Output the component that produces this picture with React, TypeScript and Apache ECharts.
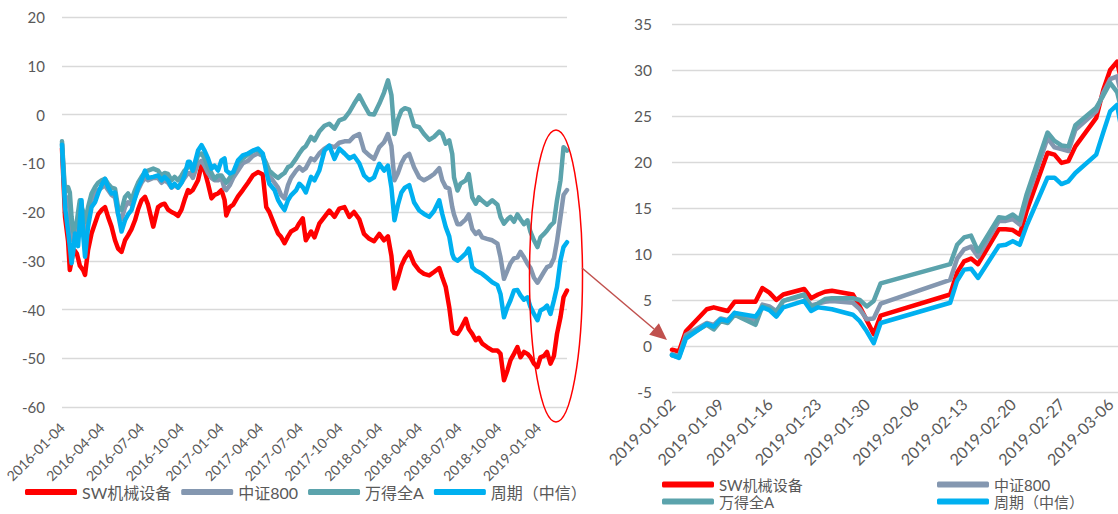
import React, { useEffect, useRef } from 'react';
import * as echarts from 'echarts';

const seriesNames = ['SW机械设备', '中证800', '万得全A', '周期（中信）'];
const seriesColors = ['#FF0000', '#8497B0', '#5BA3AC', '#00B0F0'];

const leftTickLabels = [
  '2016-01-04', '2016-04-04', '2016-07-04', '2016-10-04', '2017-01-04', '2017-04-04', '2017-07-04',
  '2017-10-04', '2018-01-04', '2018-04-04', '2018-07-04', '2018-10-04', '2019-01-04',
];
const rightTickLabels = [
  '2019-01-02', '2019-01-09', '2019-01-16', '2019-01-23', '2019-01-30', '2019-02-06', '2019-02-13',
  '2019-02-20', '2019-02-27', '2019-03-06',
];

const leftDates = [
  '2016-01-04', '2016-01-11', '2016-01-18', '2016-01-22', '2016-01-26', '2016-01-30', '2016-02-03', '2016-02-07',
  '2016-02-10', '2016-02-14', '2016-02-18', '2016-02-22', '2016-02-26', '2016-03-04', '2016-03-12', '2016-03-20',
  '2016-03-27', '2016-04-04', '2016-04-12', '2016-04-19', '2016-04-27', '2016-05-05', '2016-05-12', '2016-05-20',
  '2016-05-28', '2016-06-04', '2016-06-12', '2016-06-20', '2016-06-27', '2016-07-05', '2016-07-13', '2016-07-20',
  '2016-08-01', '2016-08-12', '2016-08-20', '2016-08-27', '2016-09-04', '2016-09-12', '2016-09-19', '2016-09-27',
  '2016-10-05', '2016-10-12', '2016-10-20', '2016-10-24', '2016-10-31', '2016-11-12', '2016-11-20', '2016-11-27',
  '2016-12-05', '2016-12-13', '2016-12-20', '2016-12-28', '2017-01-05', '2017-01-12', '2017-01-16', '2017-01-24',
  '2017-02-01', '2017-02-12', '2017-02-23', '2017-03-07', '2017-03-18', '2017-03-30', '2017-04-10', '2017-04-18',
  '2017-04-25', '2017-05-07', '2017-05-15', '2017-05-22', '2017-05-30', '2017-06-07', '2017-06-14', '2017-06-26',
  '2017-07-03', '2017-07-11', '2017-07-18', '2017-07-30', '2017-08-07', '2017-08-18', '2017-08-30', '2017-09-10',
  '2017-09-22', '2017-10-03', '2017-10-15', '2017-10-26', '2017-11-06', '2017-11-18', '2017-11-29', '2017-12-11',
  '2017-12-22', '2018-01-03', '2018-01-14', '2018-01-23', '2018-01-31', '2018-02-07', '2018-02-15', '2018-02-23',
  '2018-03-03', '2018-03-13', '2018-03-24', '2018-04-05', '2018-04-16', '2018-04-28', '2018-05-09', '2018-05-21',
  '2018-05-28', '2018-06-05', '2018-06-13', '2018-06-20', '2018-06-24', '2018-07-02', '2018-07-09', '2018-07-21',
  '2018-07-28', '2018-08-05', '2018-08-13', '2018-08-20', '2018-08-28', '2018-09-08', '2018-09-20', '2018-10-02',
  '2018-10-09', '2018-10-17', '2018-10-25', '2018-11-01', '2018-11-09', '2018-11-17', '2018-11-24', '2018-12-02',
  '2018-12-10', '2018-12-17', '2018-12-25', '2019-01-02', '2019-01-09', '2019-01-17', '2019-01-24', '2019-02-01',
  '2019-02-09', '2019-02-16', '2019-02-24', '2019-03-03', '2019-03-11',
];

const leftRed = [
  -7.0, -21, -26, -31.9, -30, -27.8, -28, -28.5, -29.5, -31, -31.5, -32, -32.9, -27.8, -24.4, -22.3,
  -20.5, -19.6, -19, -21, -23, -25.8, -27.5, -28.2, -25.8, -24.8, -23.5, -21.7, -19.5, -17.6, -16.9, -18.5,
  -23, -19, -18.5, -18.3, -19.5, -20, -20.3, -20.8, -19.5, -17.5, -15.5, -16, -15.5, -13.5, -10.4, -11.5,
  -14.2, -17.2, -16.5, -16.2, -15.5, -17.5, -20.7, -19, -18.5, -16.8, -15.5, -14, -12.5, -11.8, -12.3, -19,
  -20, -22.7, -24.4, -25.1, -26.4, -25, -24, -23.4, -22.3, -21.3, -25.8, -24, -25.2, -22.4, -21, -19.7,
  -21, -19.3, -19, -21, -20, -21.5, -24.5, -25.5, -26, -24.5, -25.8, -25, -29, -35.7, -33.5, -31,
  -29.5, -28.2, -30.6, -32, -32.7, -33, -32.3, -31.5, -33.4, -35.4, -39.5, -44.3, -44.8, -45, -44, -41.9,
  -44, -45, -46.3, -45.8, -47, -47.7, -48.4, -48.4, -49.1, -54.5, -52.5, -50.4, -49.1, -47.7, -49.8, -48.7,
  -49.1, -49.8, -51.1, -51.8, -49.8, -49.5, -48.7, -51.1, -49.5, -45, -41.6, -37.5, -36.1,
];
const leftGray = [
  -6.0, -17, -17, -20, -25, -26, -24, -23, -22, -19, -19, -22, -24, -20, -17.5, -16,
  -15.5, -15, -14.5, -15.5, -16.5, -17, -20.5, -21.5, -19, -18, -18.5, -17, -15.5, -14, -13, -13.5,
  -13, -13, -14, -13.5, -14, -15, -14.5, -15, -14, -13, -12, -12, -13, -10, -9.5, -10.5,
  -12, -13, -13.5, -13.5, -13, -15.2, -15.5, -14.5, -13, -11.5, -10, -9.5, -8.5, -8, -8.5, -11,
  -12.5, -14, -15, -16.5, -17.2, -14.5, -13, -11.5, -10.8, -11.5, -11, -9, -9.4, -8, -7, -6.4,
  -6.7, -5.8, -5.5, -5.5, -4.5, -4, -7.4, -8.4, -9.1, -6.7, -5.7, -4, -6.5, -13.5, -12, -10,
  -8.7, -8.1, -10.8, -12.9, -13.5, -12.9, -12.2, -11, -13.5, -14.9, -15.2, -19, -20.5, -22.5, -22.5, -21.5,
  -20.5, -23.5, -24.5, -24, -25.2, -25.5, -25.8, -26.5, -29.3, -33.7, -32, -30.5, -29.5, -29.3, -28.2, -29.3,
  -30.6, -31.5, -33.5, -34.5, -33.5, -32.3, -31.3, -31, -29.5, -26, -21, -16.5, -15.5,
];
const leftTeal = [
  -5.5, -16, -14.9, -16, -21, -24, -23, -22, -20, -17.6, -19, -20, -22, -19, -16.2, -14.9,
  -14, -13.5, -13.2, -14.2, -15, -15.2, -19, -19.6, -16.9, -16.2, -17.5, -15.5, -14, -12.8, -11.8, -11.5,
  -11.1, -11.5, -12.5, -12, -12.2, -13.5, -12.8, -13.5, -12.5, -11.5, -10.8, -10.5, -11.5, -8.4, -8, -9,
  -10.8, -12, -13.2, -12.5, -12.5, -13.5, -14, -13, -12, -10, -9, -8.2, -7.5, -7.2, -8.5, -10,
  -11.5, -12.5, -13, -12.5, -12, -10.8, -10.5, -9, -8, -7, -6.5, -4.6, -5.3, -3.5, -2.3, -1.9,
  -2.9, -1.2, -0.8, 0.5, 2.2, 3.9, 2.0, 0.1, 0.0, 2.2, 4.5, 7.0, 4, -4, -1, 0.8,
  1.3, 1, -2.3, -2.6, -4, -5.2, -4.6, -3.5, -4, -6, -5.3, -8.1, -12.9, -15.6, -14.2, -13.5,
  -12.2, -17, -18.3, -17, -17.7, -18.5, -17.6, -18.5, -21, -22.4, -21.5, -21, -22, -20.5, -21.5, -22.5,
  -21.7, -24.1, -25.8, -27.2, -25.2, -24.5, -23.8, -22.8, -22.1, -17.6, -13.5, -6.7, -7.4,
];
const leftBlue = [
  -6.2, -19, -24, -27, -30.5, -28, -24.4, -25, -27, -22, -17.6, -25, -29.2, -23, -19, -18,
  -16.2, -14.5, -13.2, -14.9, -16.2, -16, -20.3, -24, -21.7, -20.5, -19.6, -17.2, -15, -13.5, -11.5, -13,
  -12.8, -12.5, -13.5, -12.8, -13.5, -14.9, -14.2, -15, -14, -12.5, -9.7, -9.7, -11.5, -7.4, -6.3, -7.4,
  -9, -11.1, -10.5, -11.5, -9.4, -9, -11.5, -12.1, -11.8, -9.4, -8.4, -8, -7.4, -7, -8, -11.8,
  -14.2, -15.5, -17.5, -18.6, -19.6, -17.6, -16.6, -15.5, -14.2, -14.9, -16, -12.8, -13.5, -11.5, -7.4, -6.4,
  -9.1, -7, -8, -9, -8.5, -10, -12.5, -13.5, -12.9, -10.1, -11.5, -10.5, -15, -21.7, -18.5, -16,
  -15, -14.5, -18, -19.7, -20.4, -21, -19.8, -17.6, -20.4, -23.1, -25, -28.6, -29.5, -30, -29.5, -28.5,
  -27.5, -31.3, -32, -32.3, -32.7, -33.5, -34.4, -35, -36.8, -41.6, -39.5, -38.1, -36.1, -36, -37.1, -38,
  -37.5, -39.5, -40.9, -42.2, -40.2, -39.8, -39.2, -40.9, -38.1, -35.4, -29.9, -27.2, -26.2,
];

const rightDates = [
  '2019-01-02', '2019-01-03', '2019-01-04', '2019-01-07', '2019-01-08', '2019-01-09', '2019-01-10', '2019-01-11',
  '2019-01-14', '2019-01-15', '2019-01-16', '2019-01-17', '2019-01-18', '2019-01-21', '2019-01-22', '2019-01-23',
  '2019-01-24', '2019-01-25', '2019-01-28', '2019-01-29', '2019-01-30', '2019-01-31', '2019-02-01', '2019-02-11',
  '2019-02-12', '2019-02-13', '2019-02-14', '2019-02-15', '2019-02-18', '2019-02-19', '2019-02-20', '2019-02-21',
  '2019-02-22', '2019-02-25', '2019-02-26', '2019-02-27', '2019-02-28', '2019-03-01', '2019-03-04', '2019-03-05',
  '2019-03-06', '2019-03-07', '2019-03-08',
];
const rightRed = [
  -0.4, -0.6, 1.6, 4.0, 4.2, 4.0, 3.8, 4.8, 4.8, 6.3, 5.8, 5.0, 5.6, 6.2, 5.2, 5.6,
  5.9, 6.0, 5.6, 4.3, 2.8, 1.3, 3.3, 5.6, 8.0, 9.2, 9.5, 8.9, 12.7, 12.7, 12.6, 12.1,
  14.7, 21.0, 20.8, 19.9, 20.1, 21.7, 24.8, 27.8, 30.0, 30.9, 27.5,
];
const rightGray = [
  -0.9, -1.1, 1.2, 2.5, 2.3, 3.0, 2.8, 3.6, 2.8, 4.5, 4.3, 3.8, 4.9, 5.5, 4.4, 4.6,
  4.8, 4.9, 4.7, 4.0, 2.9, 3.0, 4.6, 7.2, 9.5, 10.5, 10.8, 9.7, 13.6, 13.6, 13.8, 13.2,
  15.9, 22.6, 21.6, 21.4, 21.2, 23.5, 25.5, 27.5, 29.0, 29.3, 26.0,
];
const rightTeal = [
  -1.0, -1.2, 1.0, 2.3, 1.8, 2.7, 2.5, 3.4, 2.3, 4.3, 4.1, 3.7, 4.9, 5.6, 4.2, 4.6,
  5.1, 5.2, 5.2, 5.0, 4.3, 4.9, 6.8, 8.9, 11.0, 11.8, 12.0, 10.3, 14.0, 13.9, 14.3, 13.7,
  16.5, 23.2, 22.3, 21.8, 21.7, 24.0, 25.9, 27.2, 28.6, 27.6, 24.5,
];
const rightBlue = [
  -1.0, -1.3, 0.8, 2.4, 2.1, 2.9, 2.7, 3.6, 3.2, 4.2, 3.9, 3.2, 4.2, 4.9, 3.8, 4.2,
  4.1, 4.0, 3.4, 2.7, 1.6, 0.3, 2.5, 4.7, 7.1, 8.3, 8.4, 7.4, 10.9, 11.0, 11.4, 11.0,
  13.1, 18.3, 18.3, 17.6, 17.9, 18.8, 20.8, 23.2, 25.5, 26.2, 22.0,
];

const leftValues = [leftRed, leftGray, leftTeal, leftBlue];
const rightValues = [rightRed, rightGray, rightTeal, rightBlue];

const FONT = "Lato, 'Noto Sans CJK SC', sans-serif";
const TEXT = '#595959';
const GRID_LINE = '#D9D9D9';

const dayOffset = (s: string, base: string) =>
  (Date.parse(s + 'T00:00:00Z') - Date.parse(base + 'T00:00:00Z')) / 86400000;

export default function App() {
  const ref = useRef<HTMLDivElement>(null);

  useEffect(() => {
    if (!ref.current) return;
    const chart = echarts.init(ref.current, null, { renderer: 'svg' });
    const leftInterval = 1096 / 12;

    const leftSeries = seriesNames.map((name, k) => ({
      name,
      type: 'line',
      xAxisIndex: 0,
      yAxisIndex: 0,
      showSymbol: false,
      symbol: 'none',
      lineStyle: { width: 4.5, color: seriesColors[k], cap: 'round', join: 'round' },
      itemStyle: { color: seriesColors[k] },
      data: leftDates.map((d, i) => [dayOffset(d, '2016-01-04'), leftValues[k][i]]),
    }));
    const rightSeries = seriesNames.map((name, k) => ({
      name,
      type: 'line',
      xAxisIndex: 1,
      yAxisIndex: 1,
      showSymbol: false,
      symbol: 'none',
      lineStyle: { width: 4.5, color: seriesColors[k], cap: 'round', join: 'round' },
      itemStyle: { color: seriesColors[k] },
      data: rightDates.map((d, i) => [dayOffset(d, '2019-01-02'), rightValues[k][i]]),
    }));

    const legendBase = {
      icon: 'roundRect',
      itemWidth: 52,
      itemHeight: 6,
      padding: 0,
      selectedMode: false,
    };

    const tip = [667, 340];
    const start = [582, 268];
    const dx = tip[0] - start[0];
    const dy = tip[1] - start[1];
    const len = Math.sqrt(dx * dx + dy * dy);
    const ux = dx / len;
    const uy = dy / len;
    const headLen = 17;
    const headHalf = 7.5;
    const bx = tip[0] - ux * headLen;
    const by = tip[1] - uy * headLen;

    chart.setOption({
      animation: false,
      backgroundColor: '#ffffff',
      textStyle: { fontFamily: FONT },
      grid: [
        { left: 62, top: 17, width: 505, height: 390 },
        { left: 672, top: 24, width: 459, height: 368 },
      ],
      xAxis: [
        {
          type: 'value',
          gridIndex: 0,
          min: 0,
          max: 1162,
          interval: leftInterval,
          axisLine: { show: false },
          axisTick: { show: false },
          splitLine: { show: false },
          axisLabel: {
            rotate: 45,
            margin: 18,
            fontSize: 14,
            color: TEXT,
            fontFamily: FONT,
            showMaxLabel: false,
            formatter: (v: number) => {
              const i = Math.round(v / leftInterval);
              return leftTickLabels[i] ?? '';
            },
          },
        },
        {
          type: 'value',
          gridIndex: 1,
          min: 0,
          max: 66,
          interval: 7,
          axisLine: { show: false },
          axisTick: { show: false },
          splitLine: { show: false },
          axisLabel: {
            rotate: 45,
            margin: 9,
            fontSize: 16,
            color: TEXT,
            fontFamily: FONT,
            showMaxLabel: false,
            formatter: (v: number) => rightTickLabels[Math.round(v / 7)] ?? '',
          },
        },
      ],
      yAxis: [
        {
          type: 'value',
          gridIndex: 0,
          min: -60,
          max: 20,
          interval: 10,
          axisLine: { show: false },
          axisTick: { show: false },
          splitLine: { lineStyle: { color: GRID_LINE, width: 1.3 } },
          axisLabel: { fontSize: 15, color: TEXT, margin: 17, fontFamily: FONT },
        },
        {
          type: 'value',
          gridIndex: 1,
          min: -5,
          max: 35,
          interval: 5,
          axisLine: { show: false },
          axisTick: { show: false },
          splitLine: { lineStyle: { color: GRID_LINE, width: 1.3 } },
          axisLabel: { fontSize: 15.5, color: TEXT, margin: 20, fontFamily: FONT },
        },
      ],
      legend: [
        {
          ...legendBase,
          left: 25,
          top: 484,
          itemGap: 10,
          textStyle: { fontSize: 16, color: TEXT, fontFamily: FONT },
          data: seriesNames,
        },
        { ...legendBase, left: 662, top: 477, textStyle: { fontSize: 15, color: TEXT, fontFamily: FONT }, data: [seriesNames[0]] },
        { ...legendBase, left: 937, top: 477, textStyle: { fontSize: 15, color: TEXT, fontFamily: FONT }, data: [seriesNames[1]] },
        { ...legendBase, left: 662, top: 494, textStyle: { fontSize: 15, color: TEXT, fontFamily: FONT }, data: [seriesNames[2]] },
        { ...legendBase, left: 937, top: 494, textStyle: { fontSize: 15, color: TEXT, fontFamily: FONT }, data: [seriesNames[3]] },
      ],
      graphic: [
        {
          type: 'ellipse',
          z: 100,
          shape: { cx: 556, cy: 276, rx: 26.5, ry: 146 },
          style: { fill: 'none', stroke: '#FF0000', lineWidth: 1.5 },
        },
        {
          type: 'line',
          z: 100,
          shape: { x1: start[0], y1: start[1], x2: bx, y2: by },
          style: { stroke: '#C0504D', lineWidth: 1.5 },
        },
        {
          type: 'polygon',
          z: 100,
          shape: {
            points: [
              [tip[0], tip[1]],
              [bx - uy * headHalf, by + ux * headHalf],
              [bx + uy * headHalf, by - ux * headHalf],
            ],
          },
          style: { fill: '#C0504D' },
        },
      ],
      series: [...leftSeries, ...rightSeries],
    });

    return () => chart.dispose();
  }, []);

  return (
    <div style={{ position: 'absolute', left: 0, top: 0, width: 1118, height: 514, overflow: 'hidden', background: '#fff' }}>
      <div ref={ref} style={{ width: 1145, height: 514 }} />
    </div>
  );
}
